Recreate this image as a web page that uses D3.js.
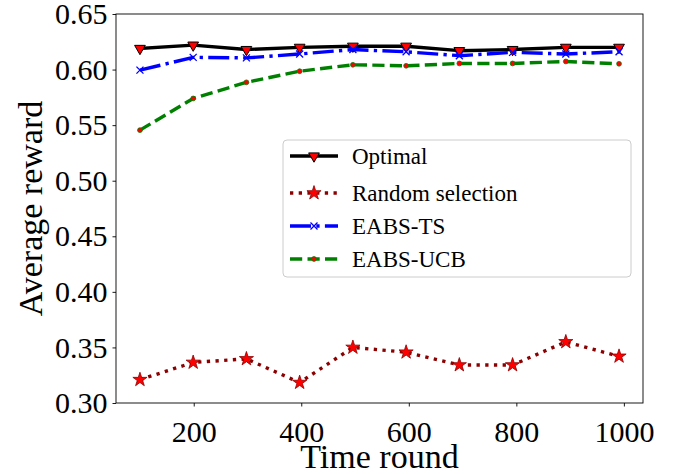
<!DOCTYPE html>
<html><head><meta charset="utf-8">
<script src="https://cdn.jsdelivr.net/npm/d3@7"></script>
<style>body{margin:0;background:#fff}svg{display:block}svg text{font-family:"Liberation Serif","Times New Roman",Times,serif !important}</style>
</head><body><svg id="c" width="679" height="474" font-family="Liberation Serif"></svg>
<script>
const rounds = [100,199,298,397,496,595,694,793,892,991];
const optimal = [0.619,0.622,0.618,0.620,0.621,0.621,0.617,0.618,0.620,0.620];
const randomSel = [0.321,0.3365,0.3397,0.3184,0.350,0.3457,0.3342,0.3342,0.355,0.342];
const eabsTS = [0.5995,0.611,0.6105,0.614,0.618,0.616,0.6125,0.6155,0.614,0.616];
const eabsUCB = [0.5455,0.574,0.5885,0.5985,0.6043,0.6034,0.6055,0.6055,0.6073,0.6052];
const seriesNames = ["Optimal","Random selection","EABS-TS","EABS-UCB"];
const xTicks = [200,400,600,800,1000];
const yTicks = [0.30,0.35,0.40,0.45,0.50,0.55,0.60,0.65];

const FONT = '"Liberation Serif", "Times New Roman", Times, serif';
const svg = d3.select("#c");
const L=116,R=643,T=14,B=403;
const span = rounds[rounds.length-1]-rounds[0];
const x = d3.scaleLinear().domain([rounds[0]-0.05*span, rounds[rounds.length-1]+0.05*span]).range([L,R]);
const y = d3.scaleLinear().domain([0.30,0.65]).range([B,T]);

const styles = [
  {data:optimal, color:"#000000", dash:null, marker:"tri"},
  {data:randomSel, color:"#8b0000", dash:"3.3,5.4", marker:"star"},
  {data:eabsTS, color:"#0000ff", dash:"21,5.3,3.3,5.3", marker:"x"},
  {data:eabsUCB, color:"#008000", dash:"12.2,5.3", marker:"dot"}
];

function drawMarker(g, type){
  if(type==="tri"){
    g.append("path").attr("d",d3.symbol(d3.symbolTriangle,50)()).attr("transform","rotate(180)")
     .attr("fill","#ff0000").attr("stroke","#000").attr("stroke-width",1);
  } else if(type==="star"){
    g.append("path").attr("d",d3.symbol(d3.symbolStar,62)()).attr("fill","#ff0000").attr("stroke","#8b0000").attr("stroke-width",0.8);
  } else if(type==="x"){
    g.append("path").attr("d","M-3.5,-3.5L3.5,3.5M-3.5,3.5L3.5,-3.5").attr("stroke","#0000ff").attr("stroke-width",1.3).attr("fill","none");
  } else {
    g.append("circle").attr("r",2.4).attr("fill","#ff0000").attr("stroke","#008000").attr("stroke-width",0.8);
  }
}

const plot = svg.append("g");
styles.forEach(s=>{
  const line = d3.line().x((d,i)=>x(rounds[i])).y(d=>y(d));
  plot.append("path").datum(s.data).attr("d",line).attr("fill","none")
    .attr("stroke",s.color).attr("stroke-width",3.4)
    .attr("stroke-dasharray",s.dash).attr("stroke-linecap",s.dash?"butt":"square").attr("stroke-linejoin","round");
  s.data.forEach((d,i)=>{
    const g = plot.append("g").attr("transform",`translate(${x(rounds[i])},${y(d)})`);
    drawMarker(g,s.marker);
  });
});

// axes
const xAxis = d3.axisBottom(x).tickValues(xTicks).tickSize(3.5).tickPadding(14).tickFormat(d3.format("d"));
const yAxis = d3.axisLeft(y).tickValues(yTicks).tickSize(3.5).tickPadding(5).tickFormat(d3.format(".2f"));
const gx = svg.append("g").attr("transform",`translate(0,${B})`).call(xAxis);
const gy = svg.append("g").attr("transform",`translate(${L},0)`).call(yAxis);
[gx,gy].forEach(g=>{
  g.attr("font-family",FONT).attr("font-size",30);
  g.select(".domain").remove();
  g.selectAll("line").attr("stroke","#000").attr("stroke-width",0.9);
  g.selectAll("text").attr("fill","#000").attr("font-family",FONT).style("font-size","30px").style("font-family",FONT);
});
svg.append("rect").attr("x",L).attr("y",T).attr("width",R-L).attr("height",B-T)
  .attr("fill","none").attr("stroke","#000").attr("stroke-width",0.9);

svg.append("text").attr("x",(L+R)/2).attr("y",468).attr("text-anchor","middle")
  .attr("font-family",FONT).style("font-size","34px").text("Time round");
svg.append("text").attr("transform",`translate(42,${(T+B)/2}) rotate(-90)`).attr("text-anchor","middle")
  .attr("font-family",FONT).style("font-size","34px").text("Average reward");

// legend
const lg = svg.append("g");
lg.append("rect").attr("x",283).attr("y",140).attr("width",348).attr("height",137).attr("rx",4)
  .attr("fill","#fff").attr("fill-opacity",0.8).attr("stroke","#cccccc").attr("stroke-width",1);
const rowY = [156,193,226,259];
styles.forEach((s,i)=>{
  const yy=rowY[i];
  lg.append("line").attr("x1",290).attr("x2",338).attr("y1",yy).attr("y2",yy)
    .attr("stroke",s.color).attr("stroke-width",3.4).attr("stroke-dasharray",s.dash);
  drawMarker(lg.append("g").attr("transform",`translate(314,${yy})`),s.marker);
  lg.append("text").attr("x",352).attr("y",yy).attr("dy","0.35em").attr("font-family",FONT).style("font-size","23px").text(seriesNames[i]);
});
</script></body></html>
